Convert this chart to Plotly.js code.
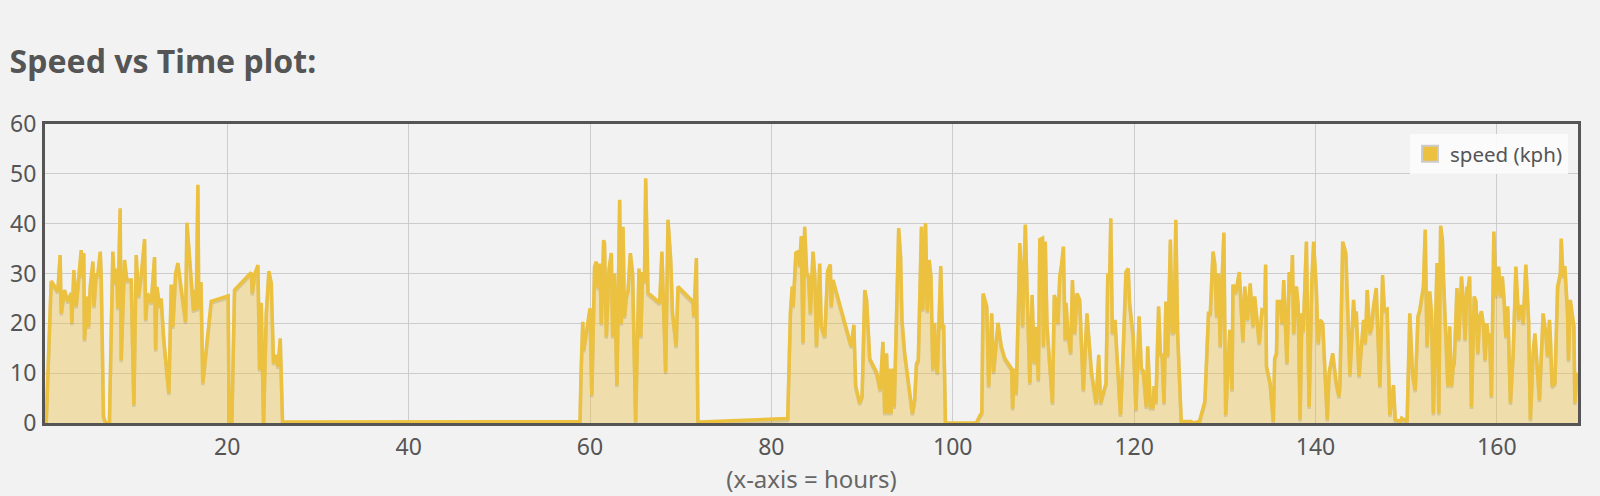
<!DOCTYPE html>
<html>
<head>
<meta charset="utf-8">
<script src="https://cdn.plot.ly/plotly-3.0.1.min.js"></script>
<style>
  html, body { margin: 0; padding: 0; background: #f2f2f2; }
  #chart { width: 1600px; height: 496px; }
</style>
</head>
<body>
<div id="chart"></div>
<script>
// ---- data (hours, speed kph) ----
const hours = [
  0.03,0.58,1.31,1.57,1.69,2.05,2.42,2.79,2.86,3.08,3.34,3.89,4.0,4.18,4.25,4.62,4.7,4.88,5.18,5.3,5.54,5.7,5.99,6.1,6.35,6.6,7.0,
  7.38,7.56,7.82,7.93,8.19,8.3,8.67,8.93,9.41,9.7,9.96,10.2,10.5,10.88,11.0,11.2,11.61,11.98,12.1,12.25,12.53,12.71,13.0,13.56,13.82,14.0,
  14.3,14.55,14.9,15.4,15.55,16.28,16.46,16.57,16.76,16.86,17.1,17.3,18.23,20.1,20.2,20.5,20.8,22.64,22.76,23.0,23.38,23.56,23.75,24.0,
  24.3,24.59,24.85,25.1,25.4,25.6,25.84,26.1,26.3,40.0,58.9,
  59.0,59.2,59.3,60.0,60.2,60.5,60.7,60.9,61.1,61.25,61.5,61.6,61.8,62.1,62.35,62.5,62.7,62.97,63.27,63.45,63.64,63.8,64.0,64.2,64.45,64.7,
  65.03,65.4,65.6,65.8,66.0,66.14,66.4,67.68,67.93,68.34,68.6,68.9,69.1,69.5,69.7,71.35,71.45,71.73,71.9,72.1,81.8,
  82.1,82.3,82.4,82.7,82.95,83.1,83.3,83.49,83.67,83.9,84.1,84.3,84.59,84.8,84.97,85.33,85.5,85.88,86.2,86.5,86.6,86.8,88.8,89.1,89.3,89.74,
  90.0,90.3,90.5,90.85,91.6,92.0,92.3,92.5,92.7,92.9,93.0,93.2,93.4,93.55,93.8,94.04,94.25,94.4,94.7,95.55,95.8,96.0,96.2,96.55,96.7,97.0,
  97.2,97.4,97.6,97.8,98.0,98.1,98.3,98.68,98.85,99.0,99.2,102.6,103.0,103.2,103.35,103.6,103.75,103.96,104.3,104.5,104.7,104.99,
  105.35,105.73,106.5,106.6,106.8,107.0,107.4,107.55,107.7,108.0,108.2,108.5,108.75,108.99,109.2,109.44,109.6,109.9,110.0,110.2,110.4,
  111.0,111.2,111.4,111.6,111.8,112.0,112.2,112.4,112.5,112.7,113.0,113.2,113.45,113.7,114.0,114.4,114.8,115.3,115.8,116.1,116.3,116.9,
  117.1,117.3,117.43,117.6,117.9,118.1,118.5,118.8,119.1,119.35,119.5,119.9,120.2,120.55,120.8,121.0,121.35,121.5,121.8,122.1,122.2,122.4,
  122.7,122.9,123.1,123.3,123.5,123.7,124.0,124.2,124.4,124.6,124.8,125.2,125.6,126.3,126.5,127.2,127.8,128.2,128.4,128.7,128.9,129.1,
  129.3,129.5,129.7,129.9,130.1,130.55,130.8,130.9,131.2,131.6,
  132.0,132.2,132.5,132.8,133.1,133.3,133.8,134.1,134.4,134.5,134.6,135.0,135.35,135.5,135.7,135.8,136.1,136.3,136.5,136.85,137.1,137.3,
  137.46,137.6,137.9,138.1,138.3,138.5,138.65,139.0,139.3,139.6,139.8,140.1,140.3,140.5,140.8,141.3,141.5,141.9,142.3,142.6,142.7,143.0,
  143.35,143.5,143.8,144.2,144.4,144.5,144.8,145.3,145.5,145.7,146.0,146.2,146.4,146.7,146.8,147.1,147.4,147.6,147.9,148.2,148.6,148.8,
  149.35,149.5,150.1,150.4,150.7,151.0,151.3,151.5,
  151.9,152.1,152.3,152.6,152.8,153.0,153.4,153.6,153.8,154.0,154.1,154.4,154.6,154.8,155.0,155.2,155.3,155.6,155.8,156.1,156.3,156.5,
  156.7,156.8,157.0,157.2,157.4,157.5,157.7,157.9,158.1,158.3,158.5,158.7,158.9,159.1,159.2,159.4,159.67,159.9,160.0,160.2,160.4,160.6,
  160.8,161.0,161.2,161.5,161.8,162.1,162.4,162.5,162.7,162.9,163.2,163.5,163.7,164.0,164.2,164.4,164.7,165.1,165.4,165.6,165.8,165.9,
  166.1,166.4,166.7,167.0,167.1,167.3,167.5,167.8,167.9,168.1,168.3,168.5,168.6,168.8,168.95
];
const speedKph = [
  0,28.5,26.4,33.7,22,26.7,24.4,26.1,20,30.7,23.4,34.7,29.4,34.1,16.7,25.4,19.3,27.1,32.4,23.4,30,29.4,34.4,29.4,1.3,0,0,
  34.4,28,31,23,43.1,12.6,32.7,28.7,28.7,3.6,33.7,25.4,29.4,36.9,20.7,26,24.1,33.3,14.7,27.3,23.4,25,16.7,6,27.8,19.3,
  30,32.1,27.3,20.3,40.2,22.5,26.7,22.7,47.8,22.9,28.3,8,24.4,25.5,0,0,26.7,30.2,26,29.7,31.7,10.7,24.1,0,
  22,30.5,28.1,12,13.7,11.3,17,0,0.2,0.2,0.3,
  9.3,20.3,14.6,23,5.6,31.4,32.4,27,32,19.9,36.7,36,17.3,31,34.1,17.3,30,7.6,44.8,19.9,39.4,21.3,25.3,26.7,34.1,30,
  0.3,31,17.3,30.3,28.3,49.1,26.1,24.1,34.4,10.2,40.8,32.8,22.1,15.4,27.4,24.4,21.4,33.1,0,0.2,0.9,
  22.2,27.4,23.4,34.1,34.4,31.5,37.5,16.1,39.4,30,29.4,22,34.4,29.4,15.4,32,19.4,17.3,30.5,31.8,23.4,28.7,15.4,19.7,7.4,4,
  5.4,26.7,24.7,12.9,10.2,6.6,16.3,1.9,14,1.9,10.9,1.9,10.9,3.2,19.4,39.1,33.4,20.7,14,1.9,4.6,11.9,12.6,39.4,22.7,40.1,
  22.4,32.7,29.4,10.7,20.1,13.4,10,31.5,19.4,19.4,0,0,1.5,2,26,24.4,23.4,7.4,22,10.2,13.6,20.1,
  15.4,13,10.9,2.9,10.9,5.9,36.1,30,19.4,39.8,26.7,8,25.7,12,19.3,8.6,36.8,37.1,15.4,36.4,19.4,
  4,25.7,24.4,20,29.4,31.8,35.4,16.7,24.1,18,14,28.7,18,26,24.7,6.6,22,10.2,4,13.7,4,8,
  30,28.7,41.1,18,20.7,14,1.6,14.7,30.3,31,24.1,17.3,2.6,21.4,10.9,10.5,3.2,15.4,3.2,3.2,7.4,4,
  23.4,14,13.4,4,24.4,13.4,36.8,18,18.4,40.8,18,0.3,0.3,0.3,0,0.3,4.3,22,22,34.4,32,21.4,
  30,15.4,28.7,38.2,1.6,18.7,6.6,27.8,26.1,30.3,
  16.4,27.4,20.7,28,19.4,25.4,16,22.7,22.4,31.8,11.4,8,0.3,13,14,24.4,24.4,20,28.7,12,30.3,26,
  33.7,18,27.4,23.4,0.7,22,18.4,36.4,3.2,28.7,36.4,26.7,16,20.7,20,0.7,10,14,8,5.3,8,36.4,
  34.1,24.7,9.6,24.7,19.4,22.4,9.4,20.7,16,26.7,18,19.4,23.4,27.1,20.7,7.4,29.7,22.7,22.9,1.6,7.6,0.7,
  0.3,1,0.3,22,10,6.6,21.4,22.7,
  27.4,38.8,15.4,26.4,22,1.9,32.1,1.9,39.6,36.8,30,14,7.4,19.4,7.4,11.7,12,27.1,16.7,29.4,24.7,16.7,
  27.4,26.7,29.4,3.2,20,25.4,24.4,14,21.4,22.4,20,12.6,20,16,18,5.3,38.4,25.4,26.7,31.4,25.4,29.4,
  24.7,17.3,23.4,4,14,31.4,20.7,23.4,23.4,20,31.8,20.7,0.7,14.1,18,12.6,4.6,22,18,13.4,20.7,17.3,
  7.4,8,27.4,30,37,29.4,31.5,22,12.6,24.7,22,19.4,4,9.6,10
];
const seriesName = 'speed (kph)';
const chartTitle = 'Speed vs Time plot:';
const xLabel = '(x-axis = hours)';
const xTicks = [20, 40, 60, 80, 100, 120, 140, 160];
const yTicks = [0, 10, 20, 30, 40, 50, 60];

const lineColor = '#ecc140';
const fontFam = '"Noto Sans", "Open Sans", sans-serif';

const traces = [
  { // filled area
    x: hours, y: speedKph, type: 'scatter', mode: 'lines',
    line: { width: 0, color: lineColor }, fill: 'tozeroy',
    fillcolor: 'rgba(236,193,64,0.4)', showlegend: false, hoverinfo: 'skip',
    xaxis: 'x', yaxis: 'y'
  },
  { // shadow (same data, axis shifted a little)
    x: hours, y: speedKph, type: 'scatter', mode: 'lines',
    line: { width: 3.5, color: 'rgba(0,0,0,0.10)' },
    showlegend: false, hoverinfo: 'skip', xaxis: 'x', yaxis: 'y2'
  },
  { // line
    x: hours, y: speedKph, type: 'scatter', mode: 'lines',
    line: { width: 3.5, color: lineColor }, name: seriesName,
    showlegend: false, xaxis: 'x', yaxis: 'y3'
  },
  { // legend entry
    x: [null], y: [null], type: 'scatter', mode: 'markers', name: seriesName,
    marker: { symbol: 'square', size: 16, color: lineColor, line: { color: '#cccccc', width: 2 } },
    showlegend: true, xaxis: 'x', yaxis: 'y3'
  }
];

const layout = {
  width: 1600, height: 496,
  paper_bgcolor: '#f2f2f2', plot_bgcolor: '#f2f2f2',
  margin: { l: 45, r: 22, t: 124, b: 73, pad: 0 },
  font: { family: fontFam, color: '#555555', size: 20 },
  title: {
    text: '<b>' + chartTitle + '</b>',
    font: { family: fontFam, size: 32, color: '#555555' },
    xref: 'container', yref: 'container', x: 0.006, xanchor: 'left',
    y: 1 - 62 / 496, yanchor: 'middle'
  },
  showlegend: true,
  legend: {
    x: 0.9935, xanchor: 'right', y: 0.967, yanchor: 'top',
    bgcolor: 'rgba(252,252,252,0.9)', borderwidth: 0,
    font: { family: fontFam, size: 20.5, color: '#555555' },
    itemsizing: 'trace'
  },
  xaxis: {
    range: [-0.1, 168.95], tickvals: xTicks, ticktext: xTicks.map(String),
    showgrid: true, gridcolor: '#cccccc', gridwidth: 1, zeroline: false,
    showline: true, mirror: true, linecolor: '#555555', linewidth: 3,
    ticks: '', tickfont: { size: 23, color: '#555555' }, ticklabelstandoff: 1,
    title: { text: xLabel, font: { size: 24, color: '#666666' }, standoff: 8 }
  },
  yaxis: {
    range: [0, 60], tickvals: yTicks, ticktext: yTicks.map(String),
    showgrid: true, gridcolor: '#cccccc', gridwidth: 1, zeroline: false,
    showline: true, mirror: true, linecolor: '#555555', linewidth: 3,
    ticks: '', tickfont: { size: 23, color: '#555555' }, ticklabelstandoff: 1
  },
  yaxis2: { overlaying: 'y', range: [0.4, 60.4], visible: false, showgrid: false },
  yaxis3: { overlaying: 'y', range: [0, 60], visible: false, showgrid: false }
};

Plotly.newPlot('chart', traces, layout, { displayModeBar: false, staticPlot: true });
</script>
</body>
</html>
